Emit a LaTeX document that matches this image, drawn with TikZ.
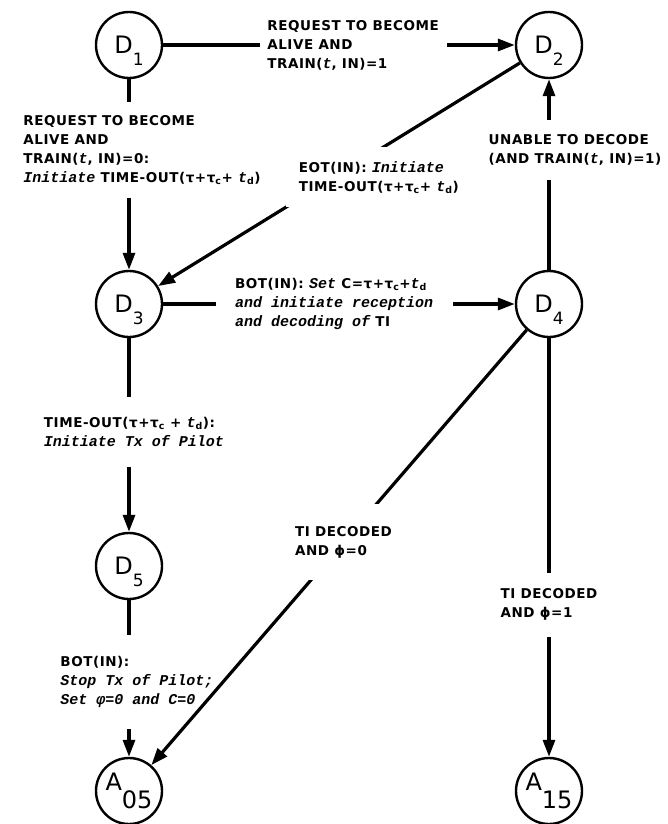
\documentclass[tikz,border=0pt]{standalone}
\usepackage{fontspec}
\setmainfont{DejaVu Sans}[LetterSpace=4]
\newfontfamily\statefont{DejaVu Sans}
\newfontfamily\handfont{Liberation Mono}
\usetikzlibrary{arrows.meta}
\newcommand{\act}[1]{{\handfont\bfseries\itshape\fontsize{15}{19}\selectfont #1}}
\newcommand{\stname}[2]{#1\raisebox{-12pt}[0pt][0pt]{\fontsize{17}{17}\selectfont #2}}
\tikzset{
  fsmstate/.style={circle, draw, line width=2.4pt, minimum size=66pt, inner sep=0pt,
                   font=\statefont\fontsize{24}{24}\selectfont},
  flow/.style={-{Triangle[length=17pt, width=12pt]}, line width=3.2pt},
  flowlabel/.style={fill=white, align=left, inner sep=0pt,
                    font=\fontsize{13.5}{19}\selectfont\bfseries},
}
\begin{document}
\begin{tikzpicture}[x=1pt, y=-1pt]
  \useasboundingbox (0,0) rectangle (668,824);
  \node[fsmstate] (d1) at (129,45) {\stname{D}{1}};
  \node[fsmstate] (d2) at (549,45) {\stname{D}{2}};
  \node[fsmstate] (d3) at (129,304) {\stname{D}{3}};
  \node[fsmstate] (d4) at (549,304) {\stname{D}{4}};
  \node[fsmstate] (d5) at (129,566) {\stname{D}{5}};
  \node[fsmstate] (a05) at (129,791) {A\raisebox{-18pt}{05}};
  \node[fsmstate] (a15) at (549,791) {A\raisebox{-18pt}{15}};

  \draw[flow] (d1) -- node[flowlabel, pos=0.54, minimum width=187pt] (l12)
    {REQUEST TO BECOME\\ALIVE AND\\TRAIN(\act{t}, IN)=1} (d2);
  \draw[flow] (d1) -- node[flowlabel, pos=0.371, xshift=13pt, minimum height=96pt] (l13)
    {REQUEST TO BECOME\\ALIVE AND\\TRAIN(\act{t}, IN)=0:\\
     \act{Initiate} TIME-OUT(τ+τ\textsubscript{c}+ \act{t}\textsubscript{d})} (d3);
  \draw[flow] (d2) -- node[flowlabel, pos=0.423, xshift=12pt, yshift=-20pt,
    minimum width=186pt, minimum height=60pt] (l23)
    {EOT(IN): \act{Initiate}\\TIME-OUT(τ+τ\textsubscript{c}+ \act{t}\textsubscript{d})} (d3);
  \draw[flow] (d3) -- node[flowlabel, pos=0.486, minimum width=237pt] (l34)
    {BOT(IN): \act{Set} C=τ+τ\textsubscript{c}+\act{t}\textsubscript{d}\\
     \act{and initiate reception}\\\act{and decoding of} TI} (d4);
  \draw[flow] (d4) -- node[flowlabel, pos=0.629, xshift=26pt, minimum height=60pt] (l42)
    {UNABLE TO DECODE\\(AND TRAIN(\act{t}, IN)=1)} (d2);
  \draw[flow] (d3) -- node[flowlabel, pos=0.485, xshift=5pt, minimum height=70pt] (l35)
    {TIME-OUT(τ+τ\textsubscript{c} + \act{t}\textsubscript{d}):\\\act{Initiate Tx of Pilot}} (d5);
  \draw[flow] (d5) -- node[flowlabel, pos=0.522, xshift=8pt, minimum height=94pt] (l5a)
    {BOT(IN):\\\act{Stop Tx of Pilot;}\\\act{Set φ=0 and C=0}} (a05);
  \draw[flow] (d4) -- node[flowlabel, pos=0.488, minimum width=100pt, minimum height=76pt] (l4a)
    {TI DECODED\\AND ϕ=0} (a05);
  \draw[flow] (d4) -- node[flowlabel, pos=0.637, minimum height=64pt] (l4b)
    {TI DECODED\\AND ϕ=1} (a15);
\end{tikzpicture}
\end{document}
